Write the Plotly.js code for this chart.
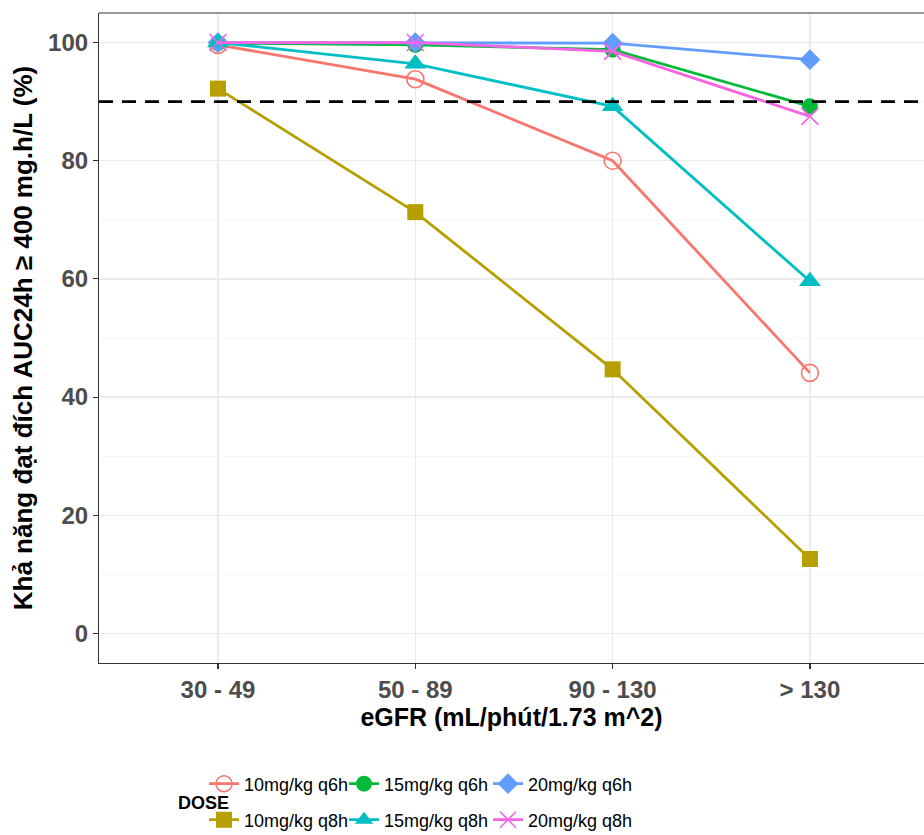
<!DOCTYPE html>
<html>
<head>
<meta charset="utf-8">
<script src="https://cdn.plot.ly/plotly-3.0.1.min.js"></script>
<style>html,body{margin:0;padding:0;background:#fff;}</style>
</head>
<body>
<div id="chart" style="width:924px;height:835px;"></div>
<script>
const categories = ["30 - 49", "50 - 89", "90 - 130", "> 130"];
const dose_10_q6h = [99.6, 93.8, 80.0, 44.1];
const dose_10_q8h = [92.2, 71.3, 44.7, 12.6];
const dose_15_q6h = [99.9, 99.6, 98.8, 89.2];
const dose_15_q8h = [100, 96.4, 89.2, 59.6];
const dose_20_q6h = [100, 100, 99.9, 97.1];
const dose_20_q8h = [100, 100, 98.5, 87.5];
const seriesNames = ["10mg/kg q6h", "15mg/kg q6h", "20mg/kg q6h", "10mg/kg q8h", "15mg/kg q8h", "20mg/kg q8h"];
const targetLine = 90;
const yTicks = [0, 20, 40, 60, 80, 100];

const seriesData = [dose_10_q6h, dose_15_q6h, dose_20_q6h, dose_10_q8h, dose_15_q8h, dose_20_q8h];
const colors = ["#F8766D", "#00BA38", "#619CFF", "#B79F00", "#00BFC4", "#F564E3"];
const symbols = ["circle-open", "circle", "diamond", "square", "triangle-up", "x-thin-open"];
const sizes = [17, 16, 16, 16, 19, 17];
const legendIds = ["legend", "legend2", "legend3", "legend4", "legend5", "legend6"];
const legendColX = [204, 344, 488, 204, 344, 488];
const legendRowY = [784, 784, 784, 820, 820, 820];

const traces = seriesData.map((ys, i) => ({
  type: "scatter",
  mode: "lines+markers",
  x: categories,
  y: ys,
  name: seriesNames[i],
  legend: legendIds[i],
  line: {color: colors[i], width: 2.8},
  marker: {symbol: symbols[i], size: sizes[i], color: colors[i],
           line: {color: colors[i], width: (symbols[i] === "circle-open" || symbols[i] === "x-thin-open") ? 1.6 : 0}},
  cliponaxis: false
}));

const fam = "Liberation Sans, Arial, sans-serif";
const W = 924, H = 835;

const layout = {
  width: W, height: H,
  margin: {l: 99, r: 0, t: 13, b: 172},
  paper_bgcolor: "#ffffff",
  plot_bgcolor: "#ffffff",
  font: {family: fam, color: "#000"},
  showlegend: true,
  xaxis: {
    type: "category",
    categoryorder: "array", categoryarray: categories,
    range: [-0.603, 3.578],
    automargin: false,
    showgrid: true, gridcolor: "#ebebeb", gridwidth: 1.2,
    showline: true, linecolor: "#333333", linewidth: 1.1,
    ticks: "outside", ticklen: 5, tickcolor: "#333333", tickwidth: 1.1,
    tickfont: {family: fam, size: 24, color: "#4d4d4d", weight: "bold"},
    title: {text: "eGFR (mL/phút/1.73 m^2)", font: {family: fam, size: 25, color: "#000", weight: "bold"}, standoff: 6},
    zeroline: false, fixedrange: true
  },
  yaxis: {
    range: [-5, 105],
    tickvals: yTicks,
    automargin: false,
    showgrid: true, gridcolor: "#ebebeb", gridwidth: 1.2,
    minor: {tick0: 10, dtick: 20, showgrid: true, gridcolor: "#f4f4f4", gridwidth: 0.7, ticks: ""},
    showline: true, linecolor: "#333333", linewidth: 1.1,
    ticks: "outside", ticklen: 5, tickcolor: "#333333", tickwidth: 1.1,
    tickfont: {family: fam, size: 24, color: "#4d4d4d", weight: "bold"},
    title: {text: "Khả năng đạt đích AUC24h ≥ 400 mg.h/L (%)", font: {family: fam, size: 26, color: "#000", weight: "bold"}, standoff: 8},
    zeroline: false, fixedrange: true
  },
  shapes: [
    {type: "line", xref: "paper", yref: "y", x0: 0, x1: 1, y0: targetLine, y1: targetLine,
     line: {color: "#000", width: 2.6, dash: "14px,9px"}},
    {type: "line", xref: "paper", yref: "paper", x0: 0, x1: 1, y0: 1, y1: 1,
     line: {color: "#333333", width: 1.1}}
  ],
  annotations: [
    {text: "DOSE", xref: "paper", yref: "paper", x: (176 - 99) / 825, y: (663 - 803) / 650,
     xanchor: "left", yanchor: "middle",
     showarrow: false, font: {family: fam, size: 18, color: "#000", weight: "bold"}}
  ]
};

legendIds.forEach((id, i) => {
  layout[id] = {
    orientation: "h",
    xref: "container", yref: "container",
    x: legendColX[i] / W, xanchor: "left",
    y: 1 - legendRowY[i] / H, yanchor: "middle",
    font: {family: fam, size: 18, color: "#000"},
    itemwidth: 30,
    bgcolor: "rgba(0,0,0,0)"
  };
});

Plotly.newPlot("chart", traces, layout, {displayModeBar: false, staticPlot: true});
</script>
</body>
</html>
